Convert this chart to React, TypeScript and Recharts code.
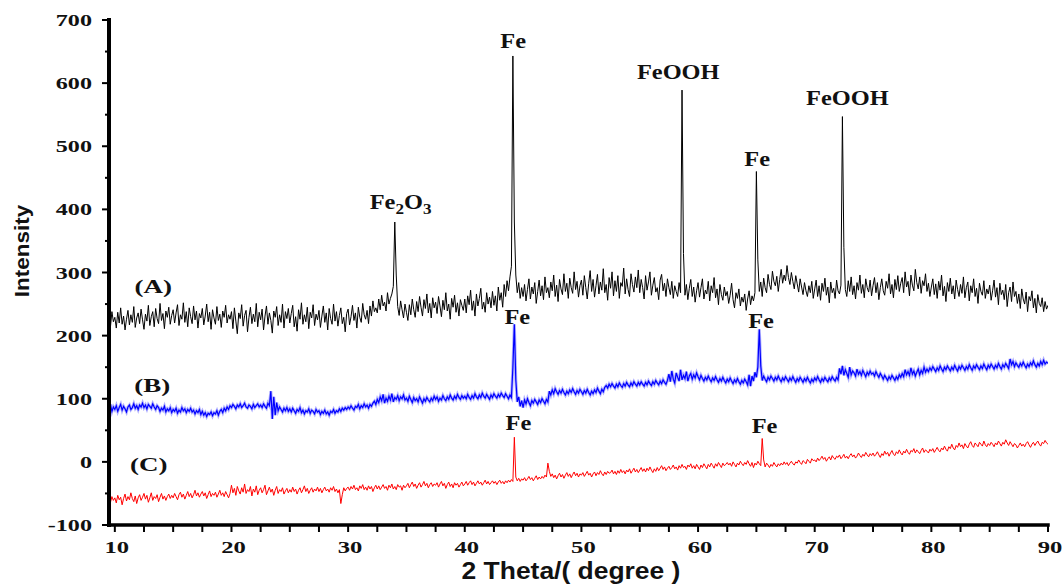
import React from 'react';
import { LineChart, Line, XAxis, YAxis, ReferenceDot } from 'recharts';

// XRD scan: 2-theta from 9.5 to 90 deg, 0.125 deg step (each line = 2.5 deg)
const SCAN_START = 9.5;
const SCAN_STEP = 0.125;

// sample (A)
const intensityA = [
  231, 214, 238, 222,
  229, 212, 237, 220, 244, 218, 231, 209, 226, 240, 217, 233, 221, 246, 213, 228, 236, 219, 242, 225,
  210, 234, 223, 248, 216, 230, 238, 214, 243, 227, 219, 251, 224, 235, 211, 239, 229, 245, 218, 232,
  241, 220, 236, 249, 216, 233, 226, 252, 221, 238, 214, 244, 230, 219, 247, 225, 239, 212, 235, 228,
  243, 217, 231, 250, 222, 237, 210, 241, 228, 218, 246, 224, 234, 213, 239, 229, 248, 220, 233, 226,
  238, 211, 244, 223, 203, 236, 227, 249, 215, 232, 240, 206, 229, 245, 219, 234, 222, 251, 214, 237,
  225, 242, 209, 231, 247, 218, 236, 224, 204, 239, 229, 246, 216, 233, 221, 250, 212, 238, 227, 243,
  220, 235, 248, 214, 230, 207, 241, 226, 252, 218, 233, 222, 245, 211, 237, 228, 249, 216, 234, 225,
  240, 213, 231, 247, 221, 236, 209, 243, 227, 218, 250, 223, 238, 215, 232, 244, 219, 229, 206, 235,
  242, 217, 230, 248, 224, 236, 212, 245, 229, 221, 251, 233, 226, 240, 219, 247, 231, 255, 238, 244,
  236, 258, 241, 264, 247, 253, 239, 268, 250, 259, 266, 278, 380, 296, 246, 232, 255, 241, 228, 250,
  237, 224, 249, 233, 258, 241, 229, 254, 238, 262, 245, 231, 257, 243, 266, 236, 251, 228, 260, 244,
  253, 235, 262, 247, 230, 256, 241, 268, 239, 250, 226, 259, 245, 264, 237, 252, 231, 257, 248, 240,
  258, 236, 263, 249, 272, 240, 255, 231, 266, 247, 259, 275, 242, 253, 237, 268, 250, 261, 244, 270,
  248, 263, 239, 277, 256, 268, 245, 281, 262, 287, 271, 293, 310, 643, 380, 296, 268, 284, 259, 276,
  262, 281, 255, 273, 290, 258, 277, 266, 284, 251, 270, 288, 263, 279, 257, 293, 268, 276, 260, 285,
  271, 296, 262, 280, 254, 289, 274, 265, 298, 270, 283, 259, 291, 276, 267, 301, 273, 286, 261, 279,
  288, 264, 295, 276, 258, 283, 303, 270, 289, 261, 279, 297, 266, 285, 272, 306, 268, 281, 256, 292,
  275, 301, 263, 287, 270, 295, 259, 284, 278, 307, 266, 290, 273, 262, 298, 281, 269, 293, 276, 304,
  268, 289, 276, 258, 295, 272, 285, 301, 264, 280, 292, 269, 276, 257, 288, 297, 271, 283, 262, 290,
  276, 265, 286, 259, 279, 270, 262, 284, 268, 589, 330, 264, 281, 257, 275, 289, 262, 277, 253, 271,
  284, 261, 276, 290, 258, 272, 266, 286, 255, 279, 268, 292, 260, 274, 249, 281, 265, 256, 277, 263,
  270, 251, 264, 283, 257, 244, 268, 259, 274, 247, 261, 253, 266, 240, 258, 271, 249, 263, 255, 268,
  460, 320, 270, 285, 262, 291, 276, 268, 297, 281, 273, 302, 286, 279, 294, 270, 289, 305, 283, 296,
  287, 311, 292, 281, 300, 286, 274, 295, 282, 269, 290, 277, 265, 284, 271, 262, 279, 268, 286, 259,
  274, 288, 262, 279, 256, 283, 270, 291, 264, 277, 252, 285, 268, 275, 259, 288, 271, 266, 280, 547,
  340, 273, 262, 287, 270, 293, 265, 279, 258, 284, 272, 296, 267, 281, 260, 290, 276, 269, 288, 263,
  279, 292, 268, 284, 257, 276, 290, 271, 264, 286, 275, 298, 266, 281, 260, 289, 273, 295, 270, 283,
  292, 268, 301, 277, 286, 263, 296, 280, 271, 305, 284, 274, 293, 267, 287, 279, 298, 270, 283, 262,
  277, 290, 265, 282, 259, 286, 272, 296, 263, 278, 254, 284, 270, 291, 266, 279, 258, 288, 273, 262,
  281, 267, 293, 260, 276, 285, 255, 279, 268, 290, 262, 275, 251, 283, 270, 264, 287, 259, 274, 266,
  280, 256, 271, 288, 261, 276, 249, 283, 265, 272, 257, 281, 246, 268, 277, 254, 285, 262, 270, 251,
  266, 243, 274, 258, 250, 269, 238, 262, 255, 271, 244, 259, 236, 265, 251, 246, 260, 238, 254, 242,
  248,
];

// sample (B)
const intensityB = [
  76, 91, 80, 87,
  83, 89, 80, 86, 91, 82, 88, 84, 79, 87, 90, 83, 86, 92, 85, 89, 83, 90, 87, 93,
  86, 90, 84, 91, 88, 85, 92, 87, 83, 89, 86, 80, 85, 82, 88, 79, 84, 81, 86, 78,
  83, 80, 85, 77, 82, 79, 86, 81, 84, 78, 83, 80, 85, 79, 82, 76, 81, 78, 83, 75,
  80, 74, 78, 72, 77, 75, 79, 73, 78, 76, 81, 74, 80, 83, 78, 85, 81, 87, 83, 89,
  86, 91, 88, 84, 90, 87, 92, 86, 89, 93, 87, 85, 90, 88, 84, 91, 86, 89, 92, 87,
  90, 86, 92, 88, 85, 93, 89, 112, 68, 103, 74, 94, 81, 87, 83, 79, 85, 81, 86, 80,
  84, 79, 85, 81, 77, 83, 80, 86, 78, 82, 76, 81, 79, 84, 77, 82, 80, 76, 83, 79,
  81, 75, 80, 77, 82, 76, 79, 74, 80, 78, 83, 77, 81, 79, 84, 80, 85, 82, 86, 83,
  87, 84, 89, 85, 82, 88, 86, 91, 84, 89, 86, 92, 87, 90, 85, 91, 88, 93, 96, 91,
  99, 94, 103, 97, 107, 93, 101, 96, 104, 98, 108, 95, 102, 99, 105, 97, 103, 100, 106, 98,
  101, 96, 104, 99, 94, 102, 97, 100, 95, 103, 98, 93, 100, 96, 102, 98, 95, 101, 97, 104,
  99, 103, 96, 101, 98, 105, 100, 97, 103, 99, 106, 101, 98, 104, 100, 107, 102, 99, 105, 101,
  104, 100, 107, 102, 99, 105, 101, 108, 103, 100, 106, 102, 109, 104, 101, 107, 103, 99, 106, 102,
  108, 104, 101, 107, 103, 109, 105, 102, 108, 104, 100, 106, 102, 150, 218, 130, 95, 103, 88, 97,
  86, 98, 92, 100, 94, 89, 97, 93, 99, 95, 91, 98, 94, 100, 96, 92, 99, 95, 112, 106,
  114, 108, 116, 111, 107, 113, 109, 115, 110, 106, 112, 108, 114, 110, 116, 111, 107, 113, 109, 115,
  111, 107, 113, 109, 115, 110, 106, 112, 108, 114, 110, 117, 112, 108, 115, 111, 118, 121, 117, 123,
  119, 124, 120, 117, 123, 119, 125, 121, 118, 124, 120, 126, 122, 119, 125, 121, 127, 123, 120, 126,
  122, 127, 123, 120, 126, 122, 128, 124, 121, 127, 123, 129, 125, 122, 128, 124, 130, 126, 123, 129,
  139, 127, 144, 131, 125, 141, 134, 128, 146, 130, 137, 132, 143, 128, 136, 140, 131, 138, 133, 141,
  135, 130, 137, 132, 128, 134, 130, 136, 131, 127, 133, 129, 135, 130, 126, 132, 128, 134, 129, 125,
  131, 127, 133, 128, 124, 130, 126, 132, 127, 123, 129, 125, 131, 127, 122, 138, 120, 136, 128, 142,
  134, 150, 210, 152, 129, 136, 131, 127, 134, 130, 136, 132, 128, 134, 130, 136, 131, 127, 133, 129,
  135, 131, 127, 133, 129, 135, 130, 126, 132, 128, 134, 130, 126, 132, 128, 134, 129, 125, 131, 127,
  133, 129, 135, 130, 126, 132, 128, 134, 130, 127, 133, 129, 135, 131, 128, 134, 130, 148, 139, 152,
  137, 146, 140, 134, 150, 138, 144, 141, 136, 147, 139, 143, 137, 145, 140, 135, 142, 138, 144, 139,
  141, 136, 143, 138, 134, 140, 136, 131, 137, 133, 129, 135, 131, 137, 133, 129, 135, 131, 138, 134,
  140, 135, 146, 138, 143, 137, 149, 139, 144, 136, 142, 147, 138, 145, 140, 150, 142, 147, 143, 149,
  145, 151, 147, 143, 149, 145, 152, 147, 143, 150, 146, 152, 148, 144, 150, 146, 153, 148, 144, 151,
  147, 153, 149, 145, 151, 147, 154, 149, 145, 152, 148, 154, 150, 146, 152, 148, 155, 150, 146, 153,
  149, 155, 151, 147, 153, 149, 156, 151, 147, 154, 150, 156, 152, 148, 163, 154, 159, 151, 157, 153,
  150, 156, 152, 158, 153, 149, 155, 151, 157, 153, 160, 154, 150, 156, 152, 159, 154, 161, 155, 158,
  156,
];

// sample (C)
const intensityC = [
  -59, -64, -55, -61,
  -57, -65, -53, -60, -56, -68, -58, -51, -62, -55, -60, -49, -58, -63, -54, -66, -57, -52, -61, -56,
  -50, -59, -53, -64, -57, -49, -61, -55, -58, -52, -63, -56, -50, -59, -54, -61, -55, -51, -58, -53,
  -57, -50, -55, -60, -52, -48, -56, -51, -59, -53, -47, -55, -50, -57, -52, -45, -54, -49, -56, -51,
  -47, -54, -49, -58, -52, -46, -55, -50, -53, -48, -56, -51, -45, -53, -49, -55, -47, -52, -57, -50,
  -37, -49, -42, -53, -39, -46, -51, -41, -48, -35, -50, -44, -47, -39, -54, -43, -48, -38, -52, -45,
  -41, -49, -44, -37, -52, -46, -40, -48, -43, -53, -45, -39, -50, -44, -47, -41, -51, -46, -42, -49,
  -44, -48, -40, -47, -43, -51, -45, -41, -49, -44, -38, -47, -42, -50, -45, -41, -48, -43, -46, -40,
  -47, -42, -49, -44, -40, -46, -43, -48, -41, -45, -39, -47, -43, -49, -44, -66, -52, -41, -46, -42,
  -40, -45, -39, -43, -37, -44, -41, -46, -38, -42, -36, -44, -40, -45, -38, -43, -39, -47, -41, -37,
  -43, -38, -44, -40, -36, -42, -39, -45, -37, -41, -35, -43, -39, -44, -36, -40, -38, -45, -37, -41,
  -38, -34, -41, -36, -32, -39, -35, -42, -37, -33, -40, -36, -31, -38, -34, -41, -36, -33, -39, -35,
  -37, -33, -40, -35, -31, -38, -34, -42, -36, -32, -39, -35, -41, -33, -37, -34, -40, -36, -32, -38,
  -35, -31, -37, -33, -30, -36, -32, -38, -34, -30, -35, -32, -37, -33, -29, -35, -31, -36, -33, -30,
  -34, -31, -36, -32, -29, -34, -31, -35, -30, -33, -29, -32, -28, -31, 39, -24, -30, -26, -31, -27,
  -29, -25, -30, -27, -23, -28, -25, -30, -26, -22, -28, -24, -27, -23, -26, -21, -24, -2, -15, -23,
  -19, -25, -21, -27, -22, -18, -24, -20, -26, -21, -17, -23, -19, -25, -20, -16, -22, -18, -24, -19,
  -21, -17, -23, -19, -15, -21, -18, -24, -19, -16, -22, -17, -20, -14, -19, -22, -16, -20, -15, -18,
  -17, -13, -19, -15, -20, -14, -18, -12, -17, -14, -19, -13, -16, -11, -18, -14, -10, -16, -12, -17,
  -13, -9, -15, -11, -16, -10, -14, -8, -13, -17, -11, -15, -9, -14, -10, -6, -12, -8, -14, -10,
  -7, -12, -9, -5, -11, -8, -13, -6, -10, -4, -9, -7, -12, -5, -8, -3, -10, -6, -11, -4,
  -8, -12, -5, -9, -3, -7, -11, -4, -8, -2, -6, -10, -3, -7, -1, -5, -9, -2, -6, -4,
  -1, -5, -2, -7, 0, -4, -8, -2, -5, 1, -3, -6, -1, -4, 2, -3, -7, -1, -9, -2,
  -5, 1, -3, -6, 37, 3, -8, -2, -5, -9, -4, -7, -1, -5, -8, -3, -6, -2, -5, 0,
  -4, -1, -6, -2, 1, -3, -5, 0, -2, 3, -1, -4, 2, 0, -3, 4, 1, -2, 5, 2,
  3, 0, 6, 2, 5, 9, 4, 7, 1, 5, 8, 3, 10, 6, 4, 9, 7, 11, 5, 8,
  12, 6, 9, 5, 10, 13, 8, 11, 6, 9, 14, 10, 7, 12, 9, 15, 11, 8, 13, 10,
  14, 9, 12, 16, 11, 7, 13, 10, 17, 12, 15, 9, 14, 18, 12, 10, 16, 13, 19, 14,
  11, 17, 14, 20, 15, 12, 18, 16, 21, 14, 19, 16, 13, 18, 22, 15, 19, 17, 14, 20,
  17, 21, 15, 19, 23, 18, 16, 22, 19, 25, 20, 17, 24, 21, 28, 22, 19, 26, 23, 30,
  24, 27, 21, 29, 25, 22, 28, 32, 26, 23, 30, 27, 24, 31, 28, 25, 33, 27, 24, 29,
  26, 31, 28, 24, 30, 27, 33, 29, 25, 31, 28, 35, 30, 26, 32, 28, 24, 29, 27, 22,
  26, 30, 25, 28, 24, 29, 32, 27, 23, 28, 31, 26, 30, 33, 28, 25, 31, 29, 34, 30,
  28,
];

const xTicks = [10, 12.5, 15, 17.5, 20, 22.5, 25, 27.5, 30, 32.5, 35, 37.5, 40, 42.5, 45, 47.5, 50,
  52.5, 55, 57.5, 60, 62.5, 65, 67.5, 70, 72.5, 75, 77.5, 80, 82.5, 85, 87.5, 90];
const yTicks = [-100, -50, 0, 50, 100, 150, 200, 250, 300, 350, 400, 450, 500, 550, 600, 650, 700];

// annotation anchors (2theta, intensity at text baseline)
const peakLabels = [
  { text: 'Fe2O3', x: 34.5, y: 400 },
  { text: 'Fe', x: 44.15, y: 655 },
  { text: 'FeOOH', x: 58.3, y: 606 },
  { text: 'Fe', x: 65.07, y: 468 },
  { text: 'FeOOH', x: 72.8, y: 566 },
  { text: 'Fe', x: 44.5, y: 219 },
  { text: 'Fe', x: 65.4, y: 212 },
  { text: 'Fe', x: 44.6, y: 51 },
  { text: 'Fe', x: 65.7, y: 46 },
];
const sampleLabels = [
  { text: '(A)', x: 13.3, y: 268 },
  { text: '(B)', x: 13.2, y: 110 },
  { text: '(C)', x: 12.9, y: -15 },
];

const toTrace = (values: number[]) =>
  values.map((v, i) => ({ x: SCAN_START + i * SCAN_STEP, y: v }));

const traceA = toTrace(intensityA);
const traceB = toTrace(intensityB);
const traceC = toTrace(intensityC);

const SERIF = '"Liberation Serif", "Times New Roman", serif';
const SANS = '"Liberation Sans", Arial, sans-serif';

const BottomTick = (props: any) => {
  const { x, y, payload } = props;
  const v = payload.value;
  return (
    <g>
      <line x1={x} x2={x} y1={y} y2={y + 7} stroke="#000" strokeWidth={2} />
      {v % 10 === 0 && (
        <text
          transform={`translate(${x + 2},${y + 28}) scale(1.45,1)`}
          textAnchor="middle"
          fontFamily={SERIF}
          fontWeight="bold"
          fontSize={17}
          fill="#111"
        >
          {v}
        </text>
      )}
    </g>
  );
};

const TopTick = (props: any) => {
  const { x, y } = props;
  return <line x1={x} x2={x} y1={y} y2={y - 5} stroke="#000" strokeWidth={2} />;
};

const LeftTick = (props: any) => {
  const { x, y, payload } = props;
  const v = payload.value;
  const major = v % 100 === 0;
  return (
    <g>
      <line x1={x} x2={x - (major ? 7 : 4)} y1={y} y2={y} stroke="#000" strokeWidth={2} />
      {major && (
        <text
          transform={`translate(${x - 17},${y + 6}) scale(1.42,1)`}
          textAnchor="end"
          fontFamily={SERIF}
          fontWeight="bold"
          fontSize={17}
          fill="#111"
        >
          {v}
        </text>
      )}
    </g>
  );
};

const RightTick = (props: any) => {
  const { x, y } = props;
  return <line x1={x} x2={x + 5} y1={y} y2={y} stroke="#000" strokeWidth={2} />;
};

const AnnotationText = (props: any) => {
  const { viewBox, text, scale = 1.22, size = 20 } = props;
  const x = viewBox?.x ?? 0;
  const y = viewBox?.y ?? 0;
  const common = {
    transform: `translate(${x},${y}) scale(${scale},1)`,
    textAnchor: 'middle' as const,
    fontFamily: SERIF,
    fontWeight: 'bold',
    fontSize: size,
    fill: '#111',
  };
  if (text === 'Fe2O3') {
    return (
      <text {...common}>
        Fe<tspan fontSize={14} dy={5}>2</tspan>
        <tspan dy={-5}>O</tspan>
        <tspan fontSize={14} dy={5}>3</tspan>
      </text>
    );
  }
  return <text {...common}>{text}</text>;
};

export default function App() {
  return (
    <div style={{ position: 'absolute', left: 0, top: 0, width: 1064, height: 585, background: '#fff' }}>
      <LineChart width={1064} height={585} margin={{ top: 20, right: 16, bottom: 0, left: 0 }}>
        <XAxis
          type="number"
          dataKey="x"
          domain={[9.5, 90]}
          ticks={xTicks}
          interval={0}
          allowDataOverflow
          height={60}
          tickSize={0}
          tickMargin={0}
          tickLine={false}
          tick={<BottomTick />}
          axisLine={{ stroke: '#000', strokeWidth: 3.5, strokeLinecap: 'square' }}
        />
        <XAxis
          xAxisId="top"
          orientation="top"
          type="number"
          dataKey="x"
          domain={[9.5, 90]}
          ticks={xTicks}
          interval={0}
          allowDataOverflow
          height={0}
          tickSize={0}
          tickMargin={0}
          tickLine={false}
          tick={<TopTick />}
          axisLine={{ stroke: '#000', strokeWidth: 3, strokeLinecap: 'square' }}
        />
        <YAxis
          type="number"
          domain={[-100, 700]}
          ticks={yTicks}
          interval={0}
          allowDataOverflow
          width={109}
          tickSize={0}
          tickMargin={0}
          tickLine={false}
          tick={<LeftTick />}
          axisLine={{ stroke: '#000', strokeWidth: 4, strokeLinecap: 'square' }}
        />
        <YAxis
          yAxisId="right"
          orientation="right"
          type="number"
          domain={[-100, 700]}
          ticks={yTicks}
          interval={0}
          allowDataOverflow
          width={0}
          tickSize={0}
          tickMargin={0}
          tickLine={false}
          tick={<RightTick />}
          axisLine={{ stroke: '#000', strokeWidth: 4, strokeLinecap: 'square' }}
        />
        <Line
          data={traceA}
          dataKey="y"
          name="A"
          type="linear"
          dot={false}
          stroke="#000"
          strokeWidth={1}
          isAnimationActive={false}
        />
        <Line
          data={traceB}
          dataKey="y"
          name="B-halo"
          type="linear"
          dot={false}
          stroke="#3d3dff"
          strokeOpacity={0.4}
          strokeWidth={3}
          isAnimationActive={false}
        />
        <Line
          data={traceB}
          dataKey="y"
          name="B"
          type="linear"
          dot={false}
          stroke="#0000ff"
          strokeWidth={1.2}
          isAnimationActive={false}
        />
        <Line
          data={traceC}
          dataKey="y"
          name="C"
          type="linear"
          dot={false}
          stroke="#ff0000"
          strokeWidth={1}
          isAnimationActive={false}
        />
        {peakLabels.map((p, i) => (
          <ReferenceDot
            key={`peak-${i}`}
            x={p.x}
            y={p.y}
            r={0}
            fill="none"
            stroke="none"
            ifOverflow="visible"
            label={<AnnotationText text={p.text} />}
          />
        ))}
        {sampleLabels.map((p, i) => (
          <ReferenceDot
            key={`sample-${i}`}
            x={p.x}
            y={p.y}
            r={0}
            fill="none"
            stroke="none"
            ifOverflow="visible"
            label={<AnnotationText text={p.text} scale={1.42} size={19} />}
          />
        ))}
      </LineChart>
      <svg
        width={1064}
        height={585}
        style={{ position: 'absolute', left: 0, top: 0, pointerEvents: 'none' }}
      >
        <text
          transform="translate(29,251) rotate(-90) scale(1.07,1)"
          textAnchor="middle"
          fontFamily={SANS}
          fontWeight="bold"
          fontSize={21}
          fill="#111"
        >
          Intensity
        </text>
        <text
          transform="translate(571,579) scale(1.15,1)"
          textAnchor="middle"
          fontFamily={SANS}
          fontWeight="bold"
          fontSize={23}
          fill="#111"
        >
          2 Theta/( degree )
        </text>
      </svg>
    </div>
  );
}
